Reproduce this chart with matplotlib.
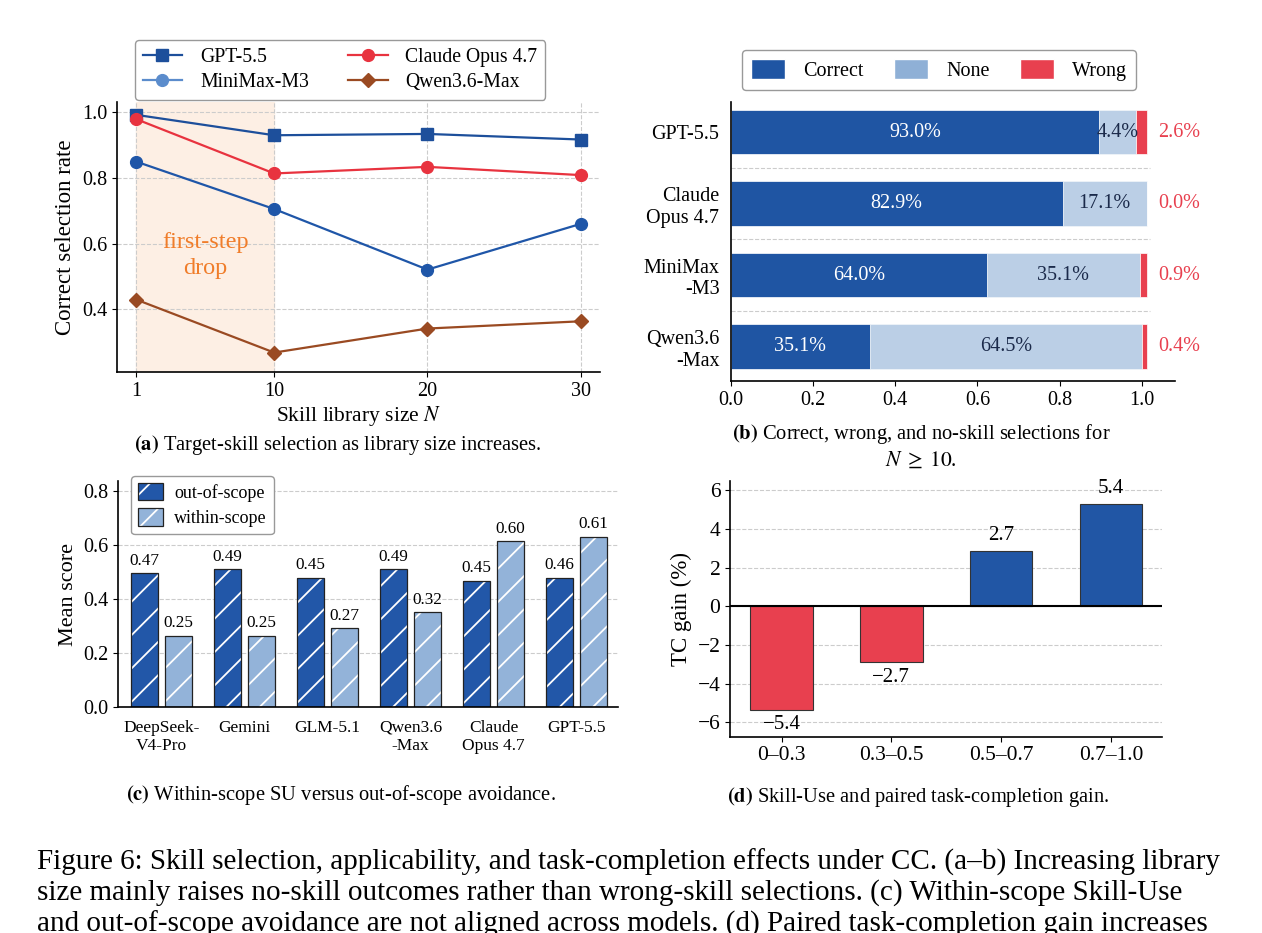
import matplotlib
matplotlib.use("Agg")
import matplotlib.pyplot as plt
from matplotlib.lines import Line2D
from matplotlib.patches import Patch

plt.rcParams["font.family"] = ["Liberation Serif", "DejaVu Serif"]
plt.rcParams["mathtext.fontset"] = "stix"
plt.rcParams["hatch.linewidth"] = 1.3
plt.rcParams["axes.linewidth"] = 1.2
plt.rcParams["xtick.labelsize"] = 14.5
plt.rcParams["ytick.labelsize"] = 14.5

# (a) correct selection rate vs library size
lib_sizes = [1, 10, 20, 30]
gpt_rate = [0.991, 0.929, 0.933, 0.916]
claude_rate = [0.978, 0.813, 0.833, 0.808]
minimax_rate = [0.849, 0.705, 0.521, 0.660]
qwen_rate = [0.430, 0.269, 0.342, 0.364]

# (b) outcome shares for N >= 10 (bar widths as drawn, labels as printed)
sel_models = ["GPT-5.5", "Claude\nOpus 4.7", "MiniMax\n-M3", "Qwen3.6\n-Max"]
sel_correct = [0.896, 0.807, 0.623, 0.339]
sel_none = [0.089, 0.205, 0.372, 0.661]
sel_wrong = [0.027, 0.0, 0.017, 0.012]
pct_correct = [93.0, 82.9, 64.0, 35.1]
pct_none = [4.4, 17.1, 35.1, 64.5]
pct_wrong = [2.6, 0.0, 0.9, 0.4]

# (c) within-scope SU vs out-of-scope avoidance
scope_models = ["DeepSeek-\nV4-Pro", "Gemini", "GLM-5.1", "Qwen3.6\n-Max",
                "Claude\nOpus 4.7", "GPT-5.5"]
out_scope = [0.497, 0.513, 0.481, 0.512, 0.470, 0.481]
within_scope = [0.266, 0.266, 0.293, 0.354, 0.617, 0.633]
out_scope_lbl = [0.47, 0.49, 0.45, 0.49, 0.45, 0.46]
within_scope_lbl = [0.25, 0.25, 0.27, 0.32, 0.60, 0.61]

# (d) TC gain by skill-use bin
su_bins = ["0\u20130.3", "0.3\u20130.5", "0.5\u20130.7", "0.7\u20131.0"]
tc_gain = [-5.35, -2.87, 2.85, 5.30]
tc_gain_lbl = [-5.4, -2.7, 2.7, 5.4]

DARK_BLUE = "#1f55a3"
MID_BLUE = "#8fb0d6"
RED = "#e8404f"
GRID = dict(color="#cccccc", linestyle="--", linewidth=0.8)

W, H = 1262, 933
fig = plt.figure(figsize=(W / 100, H / 100), dpi=100)


def box(left, top, right, bottom):
    return [left / W, 1 - bottom / H, (right - left) / W, (bottom - top) / H]


def despine(ax):
    ax.spines["top"].set_visible(False)
    ax.spines["right"].set_visible(False)


def caption(x, y, s, size=14.8):
    fig.text(x / W, 1 - y / H, s, ha="center", va="center", fontsize=size)


# ---- (a) ----
ax = fig.add_axes(box(117, 102, 600, 372))
despine(ax)
ax.axvspan(1, 10, color="#fdefe4", zorder=0)
ax.grid(True, **GRID)
ax.set_axisbelow(True)
series = [
    (gpt_rate, "#1d4f9b", "s", 8.5, "#1d4f9b"),
    (claude_rate, "#e8333f", "o", 8.5, "#e8333f"),
    (minimax_rate, "#1f56a8", "o", 8.5, "#5b8ccc"),
    (qwen_rate, "#9a4a22", "D", 7, "#9a4a22"),
]
for vals, col, mk, ms, _ in series:
    ax.plot(lib_sizes, vals, color=col, marker=mk, markersize=ms, lw=1.6, zorder=3)
ax.text(5.5, 0.565, "first-step\ndrop", color="#f07d2a", fontsize=17.5,
        ha="center", va="center", linespacing=1.3)
ax.set_xlim(-0.25, 31.25)
ax.set_ylim(0.21, 1.03)
ax.set_xticks(lib_sizes)
ax.set_yticks([0.4, 0.6, 0.8, 1.0])
ax.set_xlabel(r"Skill library size $N$", fontsize=15.5, labelpad=2)
ax.set_ylabel("Correct selection rate", fontsize=16.5)
names = ["GPT-5.5", "Claude Opus 4.7", "MiniMax-M3", "Qwen3.6-Max"]
handles = [Line2D([], [], color=s[1] if i != 2 else s[4], marker=s[2],
                  markersize=s[3], lw=1.6) for i, s in enumerate(series)]
order = [0, 2, 1, 3]
ax.legend([handles[i] for i in order], [names[i] for i in order], ncol=2,
          loc="lower left", bbox_to_anchor=(0.037, 1.007), borderaxespad=0,
          fontsize=14.2, frameon=True, edgecolor="#999999", framealpha=1,
          handlelength=2.0, handletextpad=0.9, columnspacing=2.0,
          borderpad=0.4, labelspacing=0.3)
caption(338, 445, r"$\mathbf{(a)}$ Target-skill selection as library size increases.")

# ---- (b) ----
ax = fig.add_axes(box(730.6, 102, 1175, 381))
despine(ax)
ypos = list(range(len(sel_models)))
left_none = [c for c in sel_correct]
left_wrong = [c + n for c, n in zip(sel_correct, sel_none)]
ax.barh(ypos, sel_correct, height=0.62, color=DARK_BLUE, edgecolor="white", lw=0.5)
ax.barh(ypos, sel_none, left=left_none, height=0.62, color=MID_BLUE, alpha=0.6,
        edgecolor="white", lw=0.5)
ax.barh(ypos, sel_wrong, left=left_wrong, height=0.62, color=RED, edgecolor="white", lw=0.5)
for i in ypos:
    ax.text(sel_correct[i] / 2, i, f"{pct_correct[i]:.1f}%", color="white",
            ha="center", va="center", fontsize=14.5)
    ax.text(left_none[i] + sel_none[i] / 2, i, f"{pct_none[i]:.1f}%", color="#1b2a4a",
            ha="center", va="center", fontsize=14.5)
    ax.text(1.04, i, f"{pct_wrong[i]:.1f}%", color=RED, ha="left", va="center",
            fontsize=14.5, clip_on=False)
for i in ypos[:-1]:
    ax.plot([0, 1.02], [i + 0.5, i + 0.5], **GRID)
ax.set_xlim(0, 1.08)
ax.set_ylim(3.48, -0.42)
ax.set_yticks(ypos)
ax.set_yticklabels(sel_models)
ax.tick_params(axis="y", length=0, pad=8)
ax.set_xticks([0.0, 0.2, 0.4, 0.6, 0.8, 1.0])
leg_b = [Patch(facecolor=DARK_BLUE, edgecolor="white"),
         Patch(facecolor=MID_BLUE, edgecolor="white"),
         Patch(facecolor=RED, edgecolor="white")]
ax.legend(leg_b, ["Correct", "None", "Wrong"], ncol=3, loc="lower left",
          bbox_to_anchor=(0.025, 1.043), borderaxespad=0, fontsize=14.5,
          frameon=True, edgecolor="#999999", framealpha=1, handlelength=1.7,
          handleheight=1.1, columnspacing=1.5, handletextpad=0.9, borderpad=0.45)
caption(921, 434, r"$\mathbf{(b)}$ Correct, wrong, and no-skill selections for")
caption(921, 460, r"$N \;\geq\; 10$.", size=15.5)

# ---- (c) ----
ax = fig.add_axes(box(118.4, 480.7, 618, 707.3))
despine(ax)
ax.grid(True, axis="y", **GRID)
ax.set_axisbelow(True)
xs = list(range(len(scope_models)))
bw, off = 0.335, 0.205
x_out = [x - off for x in xs]
x_in = [x + off for x in xs]
ax.bar(x_out, out_scope, bw, color="#2257a8", edgecolor="white", lw=0, hatch="/")
ax.bar(x_out, out_scope, bw, fill=False, edgecolor="#222222", lw=0.9)
ax.bar(x_in, within_scope, bw, color="#93b3d9", edgecolor="white", lw=0, hatch="/")
ax.bar(x_in, within_scope, bw, fill=False, edgecolor="#222222", lw=0.9)
for i in xs:
    ax.text(x_out[i], out_scope[i] + 0.015, f"{out_scope_lbl[i]:.2f}", ha="center",
            va="bottom", fontsize=12.3)
    ax.text(x_in[i], within_scope[i] + 0.015, f"{within_scope_lbl[i]:.2f}", ha="center",
            va="bottom", fontsize=12.3)
ax.set_xlim(-0.52, 5.5)
ax.set_ylim(0, 0.84)
ax.set_yticks([0.0, 0.2, 0.4, 0.6, 0.8])
ax.set_xticks(xs)
ax.set_xticklabels(scope_models, fontsize=12.5)
ax.tick_params(axis="x", length=0, pad=9)
ax.set_ylabel("Mean score", fontsize=16)
leg_c = [(Patch(facecolor="#2257a8", edgecolor="white", lw=0, hatch="/"),
          Patch(fill=False, edgecolor="#222222", lw=0.9)),
         (Patch(facecolor="#93b3d9", edgecolor="white", lw=0, hatch="/"),
          Patch(fill=False, edgecolor="#222222", lw=0.9))]
ax.legend(leg_c, ["out-of-scope", "within-scope"], loc="upper left",
          bbox_to_anchor=(0.025, 1.021), borderaxespad=0, fontsize=13,
          frameon=True, edgecolor="#999999", framealpha=1, handlelength=1.4,
          handleheight=1.1, handletextpad=0.6, borderpad=0.4, labelspacing=0.35)
caption(341, 795, r"$\mathbf{(c)}$ Within-scope SU versus out-of-scope avoidance.")

# ---- (d) ----
ax = fig.add_axes(box(730, 480.7, 1161.5, 736.7))
despine(ax)
ax.grid(True, axis="y", **GRID)
ax.set_axisbelow(True)
xs = list(range(len(su_bins)))
cols = [RED if v < 0 else "#2156a5" for v in tc_gain]
ax.bar(xs, tc_gain, 0.57, color=cols, edgecolor="#333333", lw=0.8, zorder=2)
ax.axhline(0, color="black", lw=1.5, zorder=3)
for i in xs:
    v = tc_gain[i]
    if v >= 0:
        ax.text(i, v + 0.3, f"{tc_gain_lbl[i]:.1f}", ha="center", va="bottom", fontsize=15)
    else:
        ax.text(i, v - 0.3, f"\u2212{abs(tc_gain_lbl[i]):.1f}", ha="center", va="top",
                fontsize=15)
ax.set_xlim(-0.47, 3.46)
ax.set_ylim(-6.75, 6.5)
ax.set_yticks([-6, -4, -2, 0, 2, 4, 6])
ax.set_xticks(xs)
ax.set_xticklabels(su_bins, fontsize=15.5)
ax.tick_params(axis="y", labelsize=15.5)
ax.set_ylabel("TC gain (%)", fontsize=16.5)
caption(918, 797, r"$\mathbf{(d)}$ Skill-Use and paired task-completion gain.")

# ---- figure caption (last line is cut by the page edge, as in the source) ----
fig_caption = [
    "Figure 6: Skill selection, applicability, and task-completion effects under CC. "
    "(a\u2013b) Increasing library",
    "size mainly raises no-skill outcomes rather than wrong-skill selections. "
    "(c) Within-scope Skill-Use",
    "and out-of-scope avoidance are not aligned across models. "
    "(d) Paired task-completion gain increases",
]
for k, line in enumerate(fig_caption):
    fig.text(37 / W, 1 - (862 + 31 * k) / H, line, ha="left", va="center", fontsize=21)

fig.savefig("out.png", dpi=100, facecolor="white")
